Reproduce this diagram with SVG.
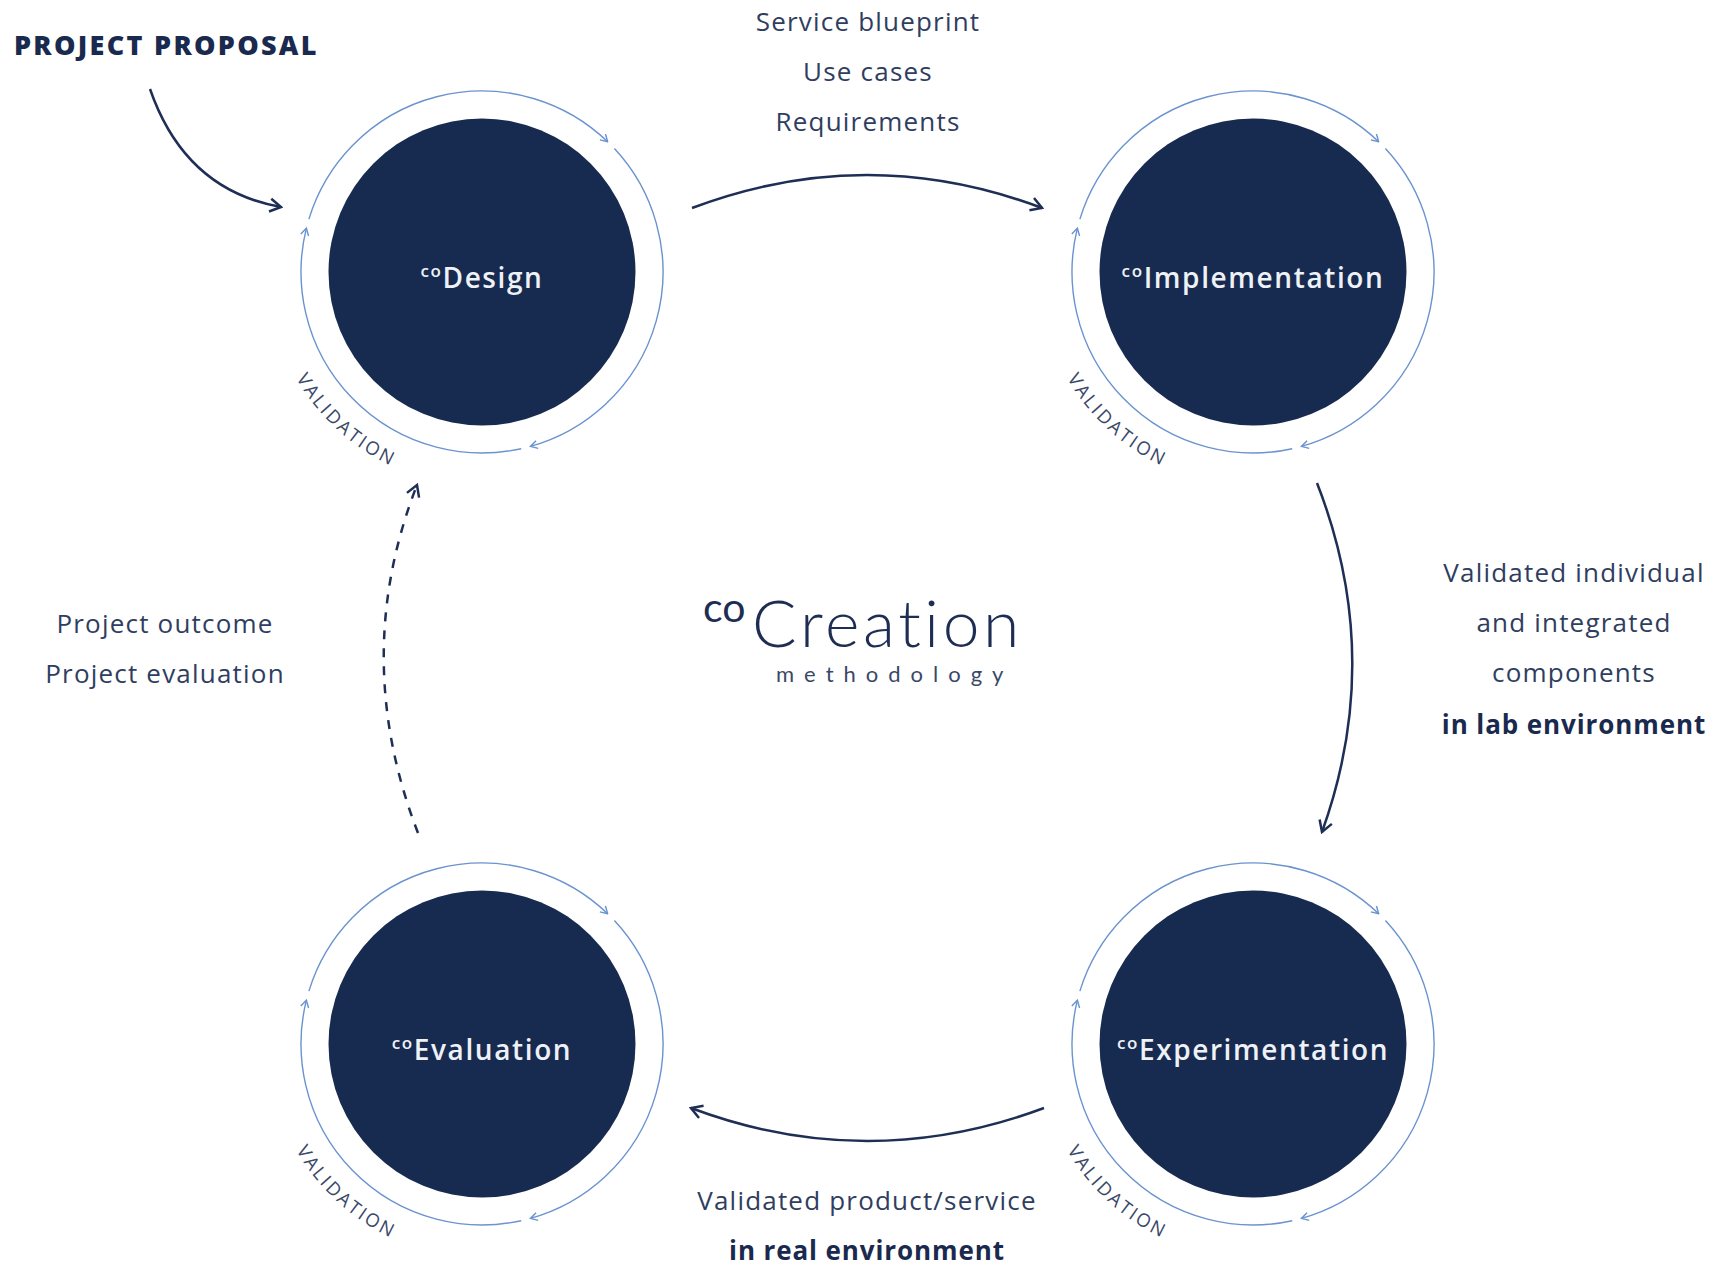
<svg xmlns="http://www.w3.org/2000/svg" xmlns:xlink="http://www.w3.org/1999/xlink" width="1717" height="1270" viewBox="0 0 1717 1270">
<style>
.disc{fill:#172a4f}
.ring{fill:none;stroke:#6a93cf;stroke-width:1.4}
.lbl{font-family:"Open Sans","Liberation Sans",sans-serif;font-weight:600;font-size:28px;fill:#eef1f6;letter-spacing:1.6px}
.val{font-family:"Open Sans","Liberation Sans",sans-serif;font-size:18.5px;fill:#3a4868;letter-spacing:2.6px}
.body{font-family:"Open Sans","Liberation Sans",sans-serif;font-size:26px;fill:#2f3e5f;letter-spacing:1.2px}
.bold{font-family:"Open Sans","Liberation Sans",sans-serif;font-size:26px;font-weight:700;fill:#1a2a4e;letter-spacing:0.9px}
.conn{fill:none;stroke:#1e2e55;stroke-width:2.5}
</style>
<defs>
<marker id="ringArrow" markerUnits="userSpaceOnUse" viewBox="0 0 10 10" markerWidth="10" markerHeight="10" refX="9" refY="5" orient="auto">
<path d="M2,1 L9,5 L2,9" fill="none" stroke="#6a93cf" stroke-width="1.4"/>
</marker>
<marker id="arrow" markerUnits="userSpaceOnUse" viewBox="0 0 16 16" markerWidth="16" markerHeight="16" refX="14" refY="8" orient="auto">
<path d="M3,1.5 L14,8 L3,14.5" fill="none" stroke="#1e2e55" stroke-width="2.5" stroke-dasharray="none"/>
</marker>
<path id="valArc" d="M-201.1,73.2 A214,214 0 0 0 -55.4,206.7" fill="none"/>
<g id="ringset">
<path class="ring" d="M132.4,-123.4 A181,181 0 0 1 48.4,174.4" marker-end="url(#ringArrow)"/>
<path class="ring" d="M39.2,176.7 A181,181 0 0 1 -175.6,-43.8" marker-end="url(#ringArrow)"/>
<path class="ring" d="M-173.1,-52.9 A181,181 0 0 1 125.7,-130.2" marker-end="url(#ringArrow)"/>
</g>
</defs>

<g id="connectors">
<path id="c-proposal" class="conn" d="M150,89 Q185,190 281,207" marker-end="url(#arrow)"/>
<path id="c-design-impl" class="conn" d="M692,208 Q867,142 1042,208" marker-end="url(#arrow)"/>
<path id="c-impl-exp" class="conn" d="M1317,483 Q1385,657 1322,832" marker-end="url(#arrow)"/>
<path id="c-exp-eval" class="conn" d="M1044,1108 Q867,1174 691,1108" marker-end="url(#arrow)"/>
<path id="c-eval-design" class="conn" d="M418,833 Q350,657 417,485" stroke-dasharray="9 9" marker-end="url(#arrow)"/>
</g>

<g id="node-design" transform="translate(482,272)">
<circle class="disc" r="153.5"/>
<use href="#ringset" xlink:href="#ringset"/>
<text class="lbl" x="0" y="16" text-anchor="middle"><tspan font-size="17" dy="-11">co</tspan><tspan dy="11">Design</tspan></text>
<text class="val"><textPath href="#valArc" xlink:href="#valArc" startOffset="50%" text-anchor="middle">VALIDATION</textPath></text>
</g>

<g id="node-implementation" transform="translate(1253,272)">
<circle class="disc" r="153.5"/>
<use href="#ringset" xlink:href="#ringset"/>
<text class="lbl" x="0" y="16" text-anchor="middle"><tspan font-size="17" dy="-11">co</tspan><tspan dy="11">Implementation</tspan></text>
<text class="val"><textPath href="#valArc" xlink:href="#valArc" startOffset="50%" text-anchor="middle">VALIDATION</textPath></text>
</g>

<g id="node-experimentation" transform="translate(1253,1044)">
<circle class="disc" r="153.5"/>
<use href="#ringset" xlink:href="#ringset"/>
<text class="lbl" x="0" y="16" text-anchor="middle"><tspan font-size="17" dy="-11">co</tspan><tspan dy="11">Experimentation</tspan></text>
<text class="val"><textPath href="#valArc" xlink:href="#valArc" startOffset="50%" text-anchor="middle">VALIDATION</textPath></text>
</g>

<g id="node-evaluation" transform="translate(482,1044)">
<circle class="disc" r="153.5"/>
<use href="#ringset" xlink:href="#ringset"/>
<text class="lbl" x="0" y="16" text-anchor="middle"><tspan font-size="17" dy="-11">co</tspan><tspan dy="11">Evaluation</tspan></text>
<text class="val"><textPath href="#valArc" xlink:href="#valArc" startOffset="50%" text-anchor="middle">VALIDATION</textPath></text>
</g>

<g id="title">
<text x="703" y="622" font-family="Lato,'Open Sans',sans-serif" font-weight="400" font-size="41" fill="#1d2d54">co</text>
<text x="752" y="647" font-family="Lato,'Open Sans',sans-serif" font-weight="300" font-size="66" fill="#1d2d54" letter-spacing="3.6">Creation</text>
<text x="776" y="682" font-family="Lato,'Open Sans',sans-serif" font-weight="400" font-size="22" fill="#3a4868" letter-spacing="10">methodology</text>
</g>

<g id="labels">
<text x="14" y="55" font-family="'Open Sans','Liberation Sans',sans-serif" font-weight="800" font-size="27" fill="#1a2a4e" letter-spacing="2.3">PROJECT PROPOSAL</text>
<text class="body" x="868" y="31" text-anchor="middle">Service blueprint</text>
<text class="body" x="868" y="81" text-anchor="middle">Use cases</text>
<text class="body" x="868" y="131" text-anchor="middle">Requirements</text>
<text class="body" x="165" y="633" text-anchor="middle">Project outcome</text>
<text class="body" x="165" y="683" text-anchor="middle">Project evaluation</text>
<text class="body" x="1574" y="582" text-anchor="middle">Validated individual</text>
<text class="body" x="1574" y="632" text-anchor="middle">and integrated</text>
<text class="body" x="1574" y="682" text-anchor="middle">components</text>
<text class="bold" x="1574" y="734" text-anchor="middle">in lab environment</text>
<text class="body" x="867" y="1210" text-anchor="middle">Validated product/service</text>
<text class="bold" x="867" y="1260" text-anchor="middle">in real environment</text>
</g>
</svg>
